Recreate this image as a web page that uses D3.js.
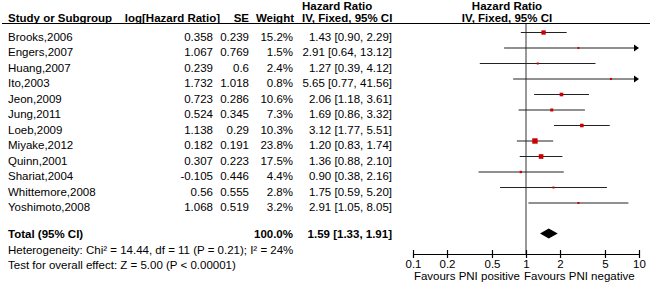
<!DOCTYPE html>
<html>
<head>
<meta charset="utf-8">
<script src="https://cdn.jsdelivr.net/npm/d3@7"></script>
<style>
  body { margin: 0; background: #fff; }
  svg { display: block; font-family: "Liberation Sans", Arial, sans-serif; font-size: 11.5px; }
</style>
</head>
<body>
<svg id="forest"></svg>
<script>
const studies = ["Brooks,2006", "Engers,2007", "Huang,2007", "Ito,2003", "Jeon,2009", "Jung,2011",
  "Loeb,2009", "Miyake,2012", "Quinn,2001", "Shariat,2004", "Whittemore,2008", "Yoshimoto,2008"];
const logHR = [0.358, 1.067, 0.239, 1.732, 0.723, 0.524, 1.138, 0.182, 0.307, -0.105, 0.56, 1.068];
const se = [0.239, 0.769, 0.6, 1.018, 0.286, 0.345, 0.29, 0.191, 0.223, 0.446, 0.555, 0.519];
const weight = [15.2, 1.5, 2.4, 0.8, 10.6, 7.3, 10.3, 23.8, 17.5, 4.4, 2.8, 3.2];
const hr = [1.43, 2.91, 1.27, 5.65, 2.06, 1.69, 3.12, 1.20, 1.36, 0.90, 1.75, 2.91];
const lower = [0.90, 0.64, 0.39, 0.77, 1.18, 0.86, 1.77, 0.83, 0.88, 0.38, 0.59, 1.05];
const upper = [2.29, 13.12, 4.12, 41.56, 3.61, 3.32, 5.51, 1.74, 2.10, 2.16, 5.20, 8.05];
const total = { weight: 100.0, hr: 1.59, lower: 1.33, upper: 1.91 };
const tickValues = [0.1, 0.2, 0.5, 1, 2, 5, 10];
const heterogeneity = "Heterogeneity: Chi² = 14.44, df = 11 (P = 0.21); I² = 24%";
const overall = "Test for overall effect: Z = 5.00 (P < 0.00001)";

const width = 650, height = 282;
const svg = d3.select("#forest").attr("width", width).attr("height", height);

const x = d3.scaleLog().domain([0.1, 10]).range([413, 639]);
const y = d3.scaleLinear().domain([0, 1]).range([32.5, 48]); // row index -> CI line
const sq = d3.scaleSqrt().domain([0, 23.8]).range([0, 5.4]);
const f2 = d3.format(".2f");

const colStudy = 8, colLog = 213, colSE = 249, colW = 293, colHR = 392, hdrHR = 302, hdrPlot = 507;
const axisY = 254, totalY = 233.5;

// headers
svg.append("g").attr("font-weight", "bold").call(g => {
  g.append("text").attr("x", hdrHR).attr("y", 10).text("Hazard Ratio");
  g.append("text").attr("x", hdrPlot).attr("y", 10).attr("text-anchor", "middle").text("Hazard Ratio");
  g.append("text").attr("x", colStudy).attr("y", 21.5).text("Study or Subgroup");
  g.append("text").attr("x", 220).attr("y", 21.5).attr("text-anchor", "end").text("log[Hazard Ratio]");
  g.append("text").attr("x", colSE).attr("y", 21.5).attr("text-anchor", "end").text("SE");
  g.append("text").attr("x", 294).attr("y", 21.5).attr("text-anchor", "end").text("Weight");
  g.append("text").attr("x", hdrHR).attr("y", 21.5).text("IV, Fixed, 95% CI");
  g.append("text").attr("x", hdrPlot).attr("y", 21.5).attr("text-anchor", "middle").text("IV, Fixed, 95% CI");
});
svg.append("line").attr("x1", 2).attr("x2", 650).attr("y1", 23.5).attr("y2", 23.5)
  .attr("stroke", "#000").attr("stroke-width", 1.2);

// line of no effect
svg.append("line").attr("x1", x(1)).attr("x2", x(1)).attr("y1", 24).attr("y2", axisY)
  .attr("stroke", "#555").attr("stroke-width", 1.2);

// study rows
studies.forEach((s, i) => {
  const ly = y(i), ty = ly + 8;
  svg.append("text").attr("x", colStudy).attr("y", ty).text(s);
  svg.append("text").attr("x", colLog).attr("y", ty).attr("text-anchor", "end").text(String(logHR[i]));
  svg.append("text").attr("x", colSE).attr("y", ty).attr("text-anchor", "end").text(String(se[i]));
  svg.append("text").attr("x", colW).attr("y", ty).attr("text-anchor", "end").text(weight[i].toFixed(1) + "%");
  svg.append("text").attr("x", colHR).attr("y", ty).attr("text-anchor", "end")
    .text(`${f2(hr[i])} [${f2(lower[i])}, ${f2(upper[i])}]`);

  const lo = Math.max(lower[i], 0.1), hi = Math.min(upper[i], 10);
  const x2 = upper[i] > 10 ? x(hi) - 4 : x(hi);
  svg.append("line").attr("x1", x(lo)).attr("x2", x2).attr("y1", ly).attr("y2", ly)
    .attr("stroke", "#222").attr("stroke-width", 1.2);
  if (upper[i] > 10) {
    svg.append("path")
      .attr("d", `M${x(10)},${ly} L${x(10) - 5},${ly - 3.5} L${x(10) - 5},${ly + 3.5} Z`)
      .attr("fill", "#000");
  }
  const side = Math.max(2, sq(weight[i]));
  svg.append("rect").attr("x", x(hr[i]) - side / 2).attr("y", ly - side / 2)
    .attr("width", side).attr("height", side).attr("fill", "#cc0000");
});

// total
svg.append("g").attr("font-weight", "bold").call(g => {
  g.append("text").attr("x", colStudy).attr("y", totalY + 4).text("Total (95% CI)");
  g.append("text").attr("x", colW).attr("y", totalY + 4).attr("text-anchor", "end").text(total.weight.toFixed(1) + "%");
  g.append("text").attr("x", colHR).attr("y", totalY + 4).attr("text-anchor", "end")
    .text(`${f2(total.hr)} [${f2(total.lower)}, ${f2(total.upper)}]`);
});
svg.append("path")
  .attr("d", `M${x(total.lower)},${totalY} L${x(total.hr)},${totalY - 5} L${x(total.upper)},${totalY} L${x(total.hr)},${totalY + 5} Z`)
  .attr("fill", "#000");

svg.append("text").attr("x", colStudy).attr("y", 253.5).text(heterogeneity);
svg.append("text").attr("x", colStudy).attr("y", 269).text(overall);

// axis
const axis = svg.append("g").attr("transform", `translate(0,${axisY})`)
  .call(d3.axisBottom(x).tickValues(tickValues).tickFormat(d => String(d)).tickSizeOuter(0));
axis.select(".domain").attr("stroke", "#000").attr("stroke-width", 1.2);
axis.selectAll(".tick line").attr("y1", -4).attr("y2", 4).attr("stroke", "#000").attr("stroke-width", 1.2);
axis.selectAll(".tick text").attr("y", 14).attr("dy", null)
  .attr("font-size", "11.5px").attr("font-family", "Liberation Sans, Arial, sans-serif").attr("fill", "#000");

svg.append("text").attr("x", x(1) - 6).attr("y", 280).attr("text-anchor", "end").text("Favours PNI positive");
svg.append("text").attr("x", x(1) - 2).attr("y", 280).text("Favours PNI negative");
</script>
</body>
</html>
